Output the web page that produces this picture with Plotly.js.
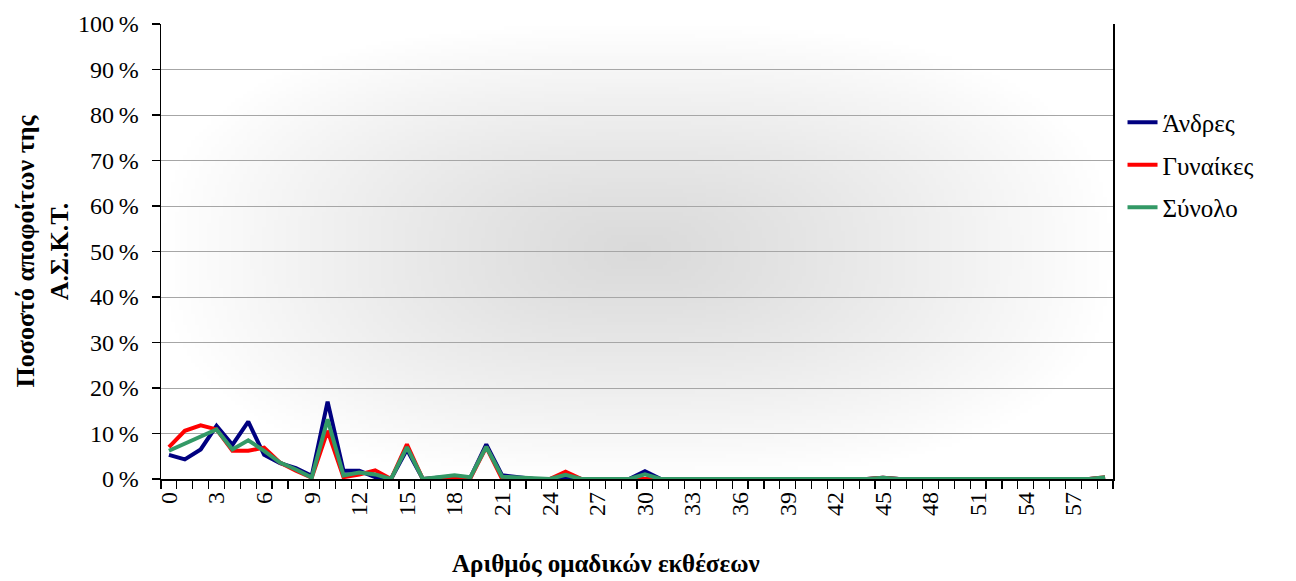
<!DOCTYPE html>
<html>
<head>
<meta charset="utf-8">
<script src="https://cdn.plot.ly/plotly-3.0.1.min.js"></script>
<style>
html,body{margin:0;padding:0;background:#fff;}
#chart{width:1296px;height:581px;}
</style>
</head>
<body>
<div id="chart"></div>
<script>
// Categories: number of group exhibitions (0..59)
var categories = [];
for (var i = 0; i < 60; i++) categories.push(i);

var tickValues = [0,3,6,9,12,15,18,21,24,27,30,33,36,39,42,45,48,51,54,57];
var tickLabels = ["0","3","6","9","12","15","18","21","24","27","30","33","36","39","42","45","48","51","54","57"];

var yTickValues = [0,10,20,30,40,50,60,70,80,90,100];
var yTickLabels = ["0\u2009%","10\u2009%","20\u2009%","30\u2009%","40\u2009%","50\u2009%","60\u2009%","70\u2009%","80\u2009%","90\u2009%","100\u2009%"];

var xTitle = "Αριθμός ομαδικών εκθέσεων";
var yTitle = "Ποσοστό αποφοίτων της<br>Α.Σ.Κ.Τ.";

var andres = [5.3,4.3,6.5,11.7,7.5,12.6,5.3,3.5,2.4,0.7,
              17.0,1.8,1.8,0.4,0,6.5,0,0.4,0.6,0.3,
              7.6,0.8,0.3,0,0,0.4,0,0,0,0,
              1.7,0,0,0,0,0,0,0,0,0,
              0,0,0,0,0,0.3,0,0,0,0,
              0,0,0,0,0,0,0,0,0,0.3];

var gynaikes = [7.0,10.6,11.8,10.9,6.2,6.2,6.9,3.6,1.8,0.3,
                10.6,0.4,1.0,1.9,0,7.6,0,0.2,0.2,0.2,
                7.0,0,0.2,0,0,1.6,0,0,0,0,
                0,0,0,0,0,0,0,0,0,0,
                0,0,0,0,0,0.3,0,0,0,0,
                0,0,0,0,0,0,0,0,0,0.4];

var synolo = [6.2,7.8,9.5,10.9,6.5,8.5,6.2,3.6,2.1,0.3,
              13.1,0.8,1.4,1.0,0,7.0,0,0.4,0.8,0.4,
              7.1,0.5,0.3,0,0,0.9,0,0,0,0,
              1.0,0,0,0,0,0,0,0,0,0,
              0,0,0,0,0,0.3,0,0,0,0,
              0,0,0,0,0,0,0,0,0,0.4];

var seriesNames = ["Άνδρες","Γυναίκες","Σύνολο"];

// gradient background for plot area (centre grey fading to white)
function makeGradient(){
  var w = 240, h = 120;
  var c = document.createElement('canvas');
  c.width = w; c.height = h;
  var ctx = c.getContext('2d');
  var img = ctx.createImageData(w, h);
  for (var y = 0; y < h; y++){
    for (var x = 0; x < w; x++){
      var dx = Math.abs((x + 0.5) / w - 0.5) * 2;
      var dy = Math.abs((y + 0.5) / h - 0.5) * 2;
      var p = 2.6;
      var t = Math.pow(Math.pow(dx, p) + Math.pow(dy, p), 1 / p);
      if (t > 1) t = 1;
      var v = Math.round(218 + (255 - 218) * Math.pow(t, 1.2));
      var k = (y * w + x) * 4;
      img.data[k] = v; img.data[k+1] = v; img.data[k+2] = v; img.data[k+3] = 255;
    }
  }
  ctx.putImageData(img, 0, 0);
  return c.toDataURL('image/png');
}

var serif = "Liberation Serif, DejaVu Serif, serif";

var traces = [
  {x: categories, y: andres, name: seriesNames[0], type: 'scatter', mode: 'lines',
   line: {color: '#000080', width: 4}, legendgroup: 'a'},
  {x: categories, y: gynaikes, name: seriesNames[1], type: 'scatter', mode: 'lines',
   line: {color: '#ff0000', width: 4}, legendgroup: 'b'},
  {x: categories, y: synolo, name: seriesNames[2], type: 'scatter', mode: 'lines',
   line: {color: '#339966', width: 4}, legendgroup: 'c'}
];

var layout = {
  width: 1296, height: 581,
  margin: {l: 161, r: 183, t: 24, b: 102},
  paper_bgcolor: '#ffffff',
  plot_bgcolor: 'rgba(0,0,0,0)',
  font: {family: serif, size: 24, color: '#000'},
  showlegend: true,
  legend: {x: 1.01, xanchor: 'left', y: 0.69, yanchor: 'middle',
           font: {family: serif, size: 25, color: '#000'},
           tracegroupgap: 7, bgcolor: 'rgba(0,0,0,0)'},
  xaxis: {
    range: [-0.5, 59.5],
    tickmode: 'array', tickvals: tickValues, ticktext: tickLabels,
    tickangle: -90, ticks: '', showgrid: false, zeroline: false,
    showline: true, linecolor: '#000', linewidth: 1.5,
    tickfont: {family: serif, size: 24, color: '#000'},
    ticklabelstandoff: 2,
    minor: {tickmode: 'linear', tick0: -0.5, dtick: 1, ticks: 'outside', ticklen: 8,
            tickcolor: '#000', tickwidth: 1.2, showgrid: false}
  },
  yaxis: {
    range: [0, 100],
    tickmode: 'array', tickvals: yTickValues, ticktext: yTickLabels,
    ticks: 'outside', ticklen: 8, tickcolor: '#000', tickwidth: 1.2,
    ticklabelstandoff: 8,
    showgrid: true, gridcolor: '#a6a6a6', gridwidth: 1,
    zeroline: false, showline: true, linecolor: '#000', linewidth: 1.5, mirror: true,
    tickfont: {family: serif, size: 24, color: '#000'},
    title: {text: '<b>' + yTitle + '</b>', font: {family: serif, size: 26, color: '#000'}, standoff: 2}
  },
  annotations: [{
    text: '<b>' + xTitle + '</b>', xref: 'paper', yref: 'paper',
    x: 0.467, y: -0.185, xanchor: 'center', yanchor: 'middle', showarrow: false,
    font: {family: serif, size: 25, color: '#000'}
  }],
  images: [{
    source: makeGradient(), xref: 'paper', yref: 'paper', x: 0, y: 1,
    sizex: 1, sizey: 1, sizing: 'stretch', xanchor: 'left', yanchor: 'top', layer: 'below'
  }]
};

Plotly.newPlot('chart', traces, layout, {displayModeBar: false, staticPlot: true});
</script>
</body>
</html>
